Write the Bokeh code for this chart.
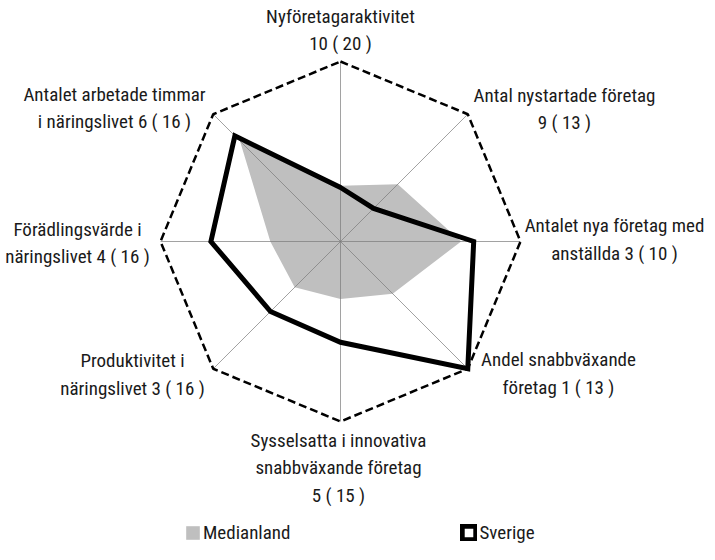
import numpy as np
from bokeh.plotting import figure
from bokeh.models import Range1d, Legend, LegendItem, ColumnDataSource
from bokeh.core.properties import value
from bokeh.embed import file_html
from bokeh.resources import INLINE

# ---- data ----
categories = [
    "Nyföretagaraktivitet\n10 ( 20 )",
    "Antal nystartade företag\n9 ( 13 )",
    "Antalet nya företag med\nanställda 3 ( 10 )",
    "Andel snabbväxande\nföretag 1 ( 13 )",
    "Sysselsatta i innovativa\nsnabbväxande företag\n5 ( 15 )",
    "Produktivitet i\nnäringslivet 3 ( 16 )",
    "Förädlingsvärde i\nnäringslivet 4 ( 16 )",
    "Antalet arbetade timmar\ni näringslivet 6 ( 16 )",
]
sverige = [0.30, 0.26, 0.74, 1.00, 0.56, 0.55, 0.72, 0.83]
medianland = [0.31, 0.45, 0.67, 0.41, 0.32, 0.36, 0.39, 0.79]
series_names = ["Medianland", "Sverige"]

# ---- layout (page pixels) ----
FONT = "'Roboto Condensed', 'DejaVu Sans Condensed', 'Liberation Sans Narrow', sans-serif"
CX, CY, R = 348.0, 249.0, 180.0
W, H = 707, 544
label_px = [(348, 37.5), (572, 116.5), (622, 247), (566, 381),
            (346, 475.5), (140, 382), (85, 250.5), (122, 115.5)]

n = len(categories)
theta = np.pi / 2 - np.arange(n) * 2 * np.pi / n


def to_xy(vals):
    v = np.asarray(vals)
    return list(v * np.cos(theta)), list(v * np.sin(theta))


p = figure(width=W, height=H, output_backend="svg", toolbar_location=None,
           x_range=Range1d((8 - CX) / R, (8 + W - CX) / R),
           y_range=Range1d((CY - 8 - H) / R, (CY - 8) / R),
           min_border=0)
p.axis.visible = False
p.grid.visible = False
p.outline_line_color = None

# median polygon
mx, my = to_xy(medianland)
med_r = p.patch(mx, my, fill_color="#bfbfbf", line_color=None)

# spokes
ox, oy = to_xy(np.ones(n))
p.segment(x0=[0] * n, y0=[0] * n, x1=ox, y1=oy, line_color="#7a7a7a", line_width=0.7)

# outer dashed octagon
p.patch(ox, oy, fill_alpha=0, line_color="black", line_width=2.5, line_dash="8 4")

# Sverige polygon
sx, sy = to_xy(sverige)
sv_r = p.patch(sx, sy, fill_alpha=0, fill_color="white", line_color="black",
               line_width=5, line_join="miter")

# labels
lx = [(px - CX) / R for px, py in label_px]
ly = [(CY - py) / R for px, py in label_px]
src = ColumnDataSource(dict(x=lx, y=ly, text=categories))
p.text(x="x", y="y", text="text", source=src, text_align="center", text_baseline="middle",
       text_font=value(FONT), text_font_size="19px", text_color="#1a1a1a", text_line_height=1.2)

legend = Legend(items=[LegendItem(label=series_names[0], renderers=[med_r]),
                       LegendItem(label=series_names[1], renderers=[sv_r])],
                orientation="horizontal", location=(192 - 8, 0),
                glyph_width=17, glyph_height=17, label_standoff=2, spacing=170,
                padding=0, margin=0, border_line_alpha=0, background_fill_alpha=0,
                label_text_font=FONT, label_text_font_size="19px", label_text_color="#1a1a1a")
p.add_layout(legend)

open("out.html", "w").write(file_html(p, INLINE))
